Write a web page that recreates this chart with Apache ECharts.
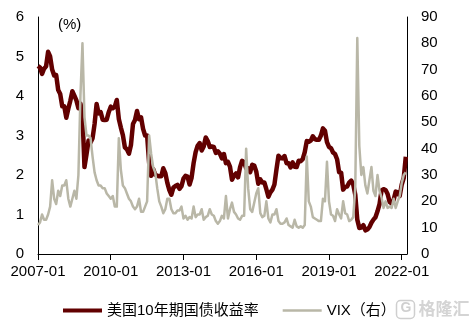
<!DOCTYPE html>
<html>
<head>
<meta charset="utf-8">
<style>
  html, body { margin: 0; padding: 0; background: #fff; }
  #chart { width: 470px; height: 323px; }
</style>
<script src="https://cdn.jsdelivr.net/npm/echarts@6/dist/echarts.min.js"></script>
</head>
<body>
<div id="chart"></div>
<script>
// Monthly readings, 2007-01 .. 2022-03 (one value per month)
const startYear = 2007;
const xTickMonths = [0, 36, 72, 108, 144, 180];
const leftTicks = [0, 1, 2, 3, 4, 5, 6];
const rightTicks = [0, 10, 20, 30, 40, 50, 60, 70, 80, 90];

// US 10-year Treasury yield, %
const yield10y = [
  4.76, 4.72, 4.56, 4.69, 4.75, 5.12, 5.00, 4.67, 4.52, 4.53, 4.15, 4.05,
  3.74, 3.74, 3.45, 3.68, 3.88, 4.12, 4.01, 3.89, 3.69, 3.81, 3.53, 2.20,
  2.52, 2.87, 2.82, 2.93, 3.29, 3.80, 3.56, 3.59, 3.40, 3.39, 3.40, 3.59,
  3.73, 3.69, 3.73, 3.90, 3.42, 3.20, 3.01, 2.70, 2.65, 2.54, 2.76, 3.29,
  3.39, 3.62, 3.41, 3.46, 3.17, 3.00, 3.00, 2.30, 1.98, 2.15, 2.01, 1.98,
  1.97, 1.97, 2.17, 2.05, 1.80, 1.62, 1.50, 1.68, 1.72, 1.75, 1.65, 1.72,
  1.91, 1.98, 1.96, 1.76, 1.93, 2.30, 2.58, 2.74, 2.81, 2.62, 2.72, 2.95,
  2.86, 2.71, 2.72, 2.71, 2.56, 2.60, 2.54, 2.42, 2.53, 2.30, 2.33, 2.21,
  1.88, 1.98, 2.04, 1.94, 2.20, 2.36, 2.32, 2.17, 2.17, 2.07, 2.26, 2.24,
  2.09, 1.78, 1.89, 1.81, 1.81, 1.64, 1.45, 1.56, 1.63, 1.76, 2.14, 2.49,
  2.43, 2.42, 2.48, 2.30, 2.30, 2.19, 2.32, 2.21, 2.20, 2.36, 2.35, 2.40,
  2.58, 2.86, 2.84, 2.87, 2.98, 2.91, 2.89, 2.89, 3.00, 3.18, 3.12, 2.83,
  2.71, 2.68, 2.57, 2.53, 2.40, 2.07, 2.06, 1.63, 1.70, 1.71, 1.81, 1.86,
  1.76, 1.50, 0.87, 0.66, 0.67, 0.73, 0.60, 0.62, 0.68, 0.79, 0.87, 0.93,
  1.08, 1.26, 1.61, 1.64, 1.62, 1.52, 1.32, 1.28, 1.37, 1.58, 1.56, 1.47,
  1.76, 1.93, 2.46
];

// CBOE VIX index
const vix = [
  11.0, 12.0, 15.0, 13.0, 13.0, 15.0, 18.0, 28.0, 21.0, 19.0, 24.0, 22.0,
  26.0, 26.0, 28.0, 21.0, 18.0, 21.0, 24.0, 21.0, 30.0, 60.0, 80.0, 52.0,
  45.0, 45.0, 44.0, 37.0, 31.0, 28.0, 26.0, 26.0, 25.0, 25.0, 23.0, 22.0,
  21.0, 22.0, 18.0, 18.0, 44.0, 32.0, 26.0, 25.0, 23.0, 21.0, 20.0, 18.0,
  17.0, 18.0, 21.0, 16.0, 16.0, 18.0, 20.0, 45.0, 38.0, 33.0, 31.0, 25.0,
  20.0, 18.0, 15.5, 17.0, 21.0, 21.0, 17.0, 15.5, 15.5, 16.5, 16.5, 18.0,
  13.5, 14.5, 13.0, 14.0, 13.5, 18.0, 14.0, 15.0, 15.0, 17.0, 13.0, 14.0,
  14.5, 17.0, 15.0, 14.5, 12.5, 11.5, 12.5, 14.5, 13.5, 22.0, 13.5, 17.0,
  19.5, 16.0, 15.0, 13.5, 13.0, 14.5, 14.5, 40.0, 25.0, 17.0, 16.0, 19.5,
  23.0, 25.0, 15.5, 14.0, 14.5, 20.0, 13.5, 12.0, 15.0, 15.0, 17.0, 12.5,
  11.5, 11.5, 12.0, 13.5, 11.0, 10.5, 10.0, 13.0, 10.5, 10.0, 10.5, 10.0,
  11.0, 37.0, 20.0, 18.0, 14.0, 13.5, 13.0, 12.5, 12.5, 21.0, 20.0, 35.0,
  20.0, 15.0, 14.5, 12.5, 17.0, 15.0, 13.5, 20.0, 15.5, 15.0, 12.5, 13.0,
  14.0, 25.0, 82.0, 41.0, 30.0, 33.0, 26.0, 23.0, 28.0, 33.0, 24.0, 22.0,
  30.0, 24.0, 21.5, 17.5, 20.0, 17.5, 18.0, 17.5, 21.0, 17.5, 20.0, 22.0,
  27.0, 30.0, 31.0
];

const seriesNames = ['美国10年期国债收益率', 'VIX（右）'];
const colors = ['#620000', '#b9b7a7'];

const font = 'Arial, "Liberation Sans", "Noto Sans CJK SC", sans-serif';
const pairs = (arr) => arr.map((v, i) => [i, v]);

const chart = echarts.init(document.getElementById('chart'), null, { renderer: 'canvas' });

chart.setOption({
  animation: false,
  backgroundColor: '#fff',
  textStyle: { fontFamily: font },
  grid: { left: 38, right: 63, top: 17, bottom: 69, containLabel: false },
  legend: {
    data: [
      { name: seriesNames[0], icon: 'path://M0,0H39V4H0Z' },
      { name: seriesNames[1], icon: 'path://M0,0H39V2.5H0Z' }
    ],
    left: 58,
    top: 298,
    itemWidth: 39,
    itemHeight: 14,
    itemGap: 24,
    textStyle: { fontSize: 15, color: '#000', fontFamily: font }
  },
  xAxis: {
    type: 'value',
    min: 0,
    max: 182.6,
    splitLine: { show: false },
    axisLine: { show: true, lineStyle: { color: '#000', width: 1 } },
    axisTick: { show: true, length: 6, lineStyle: { color: '#000' }, customValues: xTickMonths },
    axisLabel: {
      customValues: xTickMonths,
      margin: 10,
      fontSize: 15,
      color: '#000',
      fontFamily: font,
      formatter: (v) => (startYear + Math.round(v / 12)) + '-01'
    }
  },
  yAxis: [
    {
      type: 'value',
      min: leftTicks[0],
      max: leftTicks[leftTicks.length - 1],
      interval: 1,
      splitLine: { show: false },
      axisLine: { show: true, lineStyle: { color: '#000', width: 1 } },
      axisTick: { show: false },
      axisLabel: { margin: 14, fontSize: 15, color: '#000', fontFamily: font }
    },
    {
      type: 'value',
      min: rightTicks[0],
      max: rightTicks[rightTicks.length - 1],
      interval: 10,
      position: 'right',
      splitLine: { show: false },
      axisLine: { show: true, lineStyle: { color: '#000', width: 1 } },
      axisTick: { show: false },
      axisLabel: { margin: 14, fontSize: 15, color: '#000', fontFamily: font }
    }
  ],
  graphic: [
    {
      type: 'text',
      left: 58,
      top: 17,
      style: { text: '(%)', fontSize: 15, fill: '#000', fontFamily: font }
    },
    {
      type: 'group',
      left: 394,
      top: 298,
      children: [
        {
          type: 'rect',
          shape: { x: 0, y: 0, width: 18, height: 18, r: 4 },
          style: { fill: 'none', stroke: '#cfcfcf', lineWidth: 1.5 }
        },
        {
          type: 'text',
          style: { x: 4, y: 1, text: 'G', fontSize: 14, fontWeight: 'bold', fill: '#cfcfcf', fontFamily: font }
        },
        {
          type: 'text',
          style: { x: 22, y: 0, text: '格隆汇', fontSize: 17, fontWeight: 'bold', fill: '#d4d4d4', fontFamily: '"Noto Sans CJK SC", sans-serif' }
        }
      ]
    }
  ],
  series: [
    {
      name: seriesNames[0],
      type: 'line',
      yAxisIndex: 0,
      data: pairs(yield10y),
      symbol: 'none',
      z: 2,
      lineStyle: { color: colors[0], width: 4.5, join: 'round' },
      itemStyle: { color: colors[0] }
    },
    {
      name: seriesNames[1],
      type: 'line',
      yAxisIndex: 1,
      data: pairs(vix),
      symbol: 'none',
      z: 3,
      lineStyle: { color: colors[1], width: 2.5, join: 'round' },
      itemStyle: { color: colors[1] }
    }
  ]
});
</script>
</body>
</html>
